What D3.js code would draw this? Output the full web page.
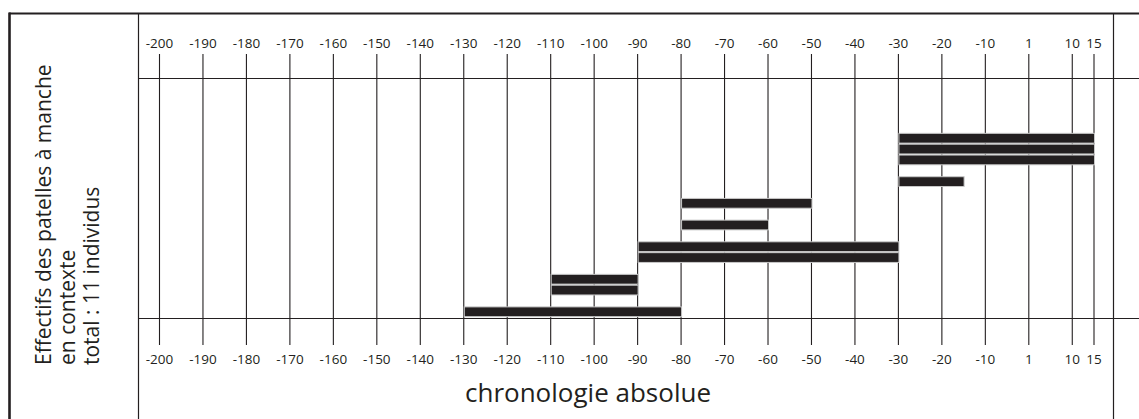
<!DOCTYPE html>
<html>
<head>
<meta charset="utf-8">
<script src="https://cdn.jsdelivr.net/npm/d3@7"></script>
<style>
  html, body { margin: 0; padding: 0; background: #fff; }
  svg { display: block; }
  text { font-family: "Open Sans", "Noto Sans", sans-serif; fill: #231f20; }
</style>
</head>
<body>
<svg id="chart" width="1139" height="419"></svg>
<script>
// ---- data ----
const tickYears  = [-200, -190, -180, -170, -160, -150, -140, -130, -120, -110, -100, -90, -80, -70, -60, -50, -40, -30, -20, -10, 0, 10, 15];
const tickLabels = ["-200", "-190", "-180", "-170", "-160", "-150", "-140", "-130", "-120", "-110", "-100", "-90", "-80", "-70", "-60", "-50", "-40", "-30", "-20", "-10", "1", "10", "15"];
const barStarts = [-130, -110, -110, -90, -90, -80, -80, -30, -30, -30, -30];
const barEnds   = [ -80,  -90,  -90, -30, -30, -60, -50, -15,  15,  15,  15];
const barRows   = [   0,    2,    3,   5,   6,   8,  10,  12,  14,  15,  16];
const yLabelLines = ["Effectifs des patelles à manche", "en contexte", "total : 11 individus"];
const xTitle = "chronologie absolue";

// ---- layout ----
const svg = d3.select("#chart");
const ink = "#231f20";
const x = d3.scaleLinear().domain([-200, 15]).range([159, 1093.5]);
const y = d3.scaleBand().domain(d3.range(17).reverse()).range([132.8, 317.2]).paddingInner(0.1).paddingOuter(0.05);

const gridTop = 54, gridBottom = 345;
const labelOf = d => tickLabels[tickYears.indexOf(d)];

// frame
svg.append("line").attr("x1", 9).attr("x2", 1139).attr("y1", 13.5).attr("y2", 13.5).attr("stroke", ink).attr("stroke-width", 2.2);
svg.append("line").attr("x1", 9.5).attr("x2", 9.5).attr("y1", 12.5).attr("y2", 419).attr("stroke", ink).attr("stroke-width", 2.6);
svg.append("line").attr("x1", 138.5).attr("x2", 138.5).attr("y1", 13).attr("y2", 419).attr("stroke", ink).attr("stroke-width", 1.2);
svg.append("line").attr("x1", 1113.5).attr("x2", 1113.5).attr("y1", 13).attr("y2", 419).attr("stroke", ink).attr("stroke-width", 1.2);

// gridlines + top labels
const topAxis = d3.axisTop(x).tickValues(tickYears).tickFormat(labelOf)
  .tickSize(gridBottom - gridTop).tickPadding(6);
const gTop = svg.append("g").attr("transform", `translate(0,${gridBottom})`).call(topAxis);
gTop.select(".domain").remove();
gTop.selectAll(".tick line").attr("stroke", ink).attr("stroke-width", 1.1);
gTop.selectAll(".tick text").attr("fill", ink).style("font-size", "13.5px").style("font-family", null);

// bottom labels
const botAxis = d3.axisBottom(x).tickValues(tickYears).tickFormat(labelOf)
  .tickSize(gridBottom - gridTop).tickPadding(9.5);
const gBot = svg.append("g").attr("transform", `translate(0,${gridTop})`).call(botAxis);
gBot.select(".domain").remove();
gBot.selectAll(".tick line").remove();
gBot.selectAll(".tick text").attr("fill", ink).style("font-size", "13.5px").style("font-family", null);

// horizontal axis lines
svg.append("line").attr("x1", 138).attr("x2", 1139).attr("y1", 78.5).attr("y2", 78.5).attr("stroke", ink).attr("stroke-width", 1.1);
svg.append("line").attr("x1", 138).attr("x2", 1139).attr("y1", 318.5).attr("y2", 318.5).attr("stroke", ink).attr("stroke-width", 1.1);

// bars
const bars = barStarts.map((s, i) => ({ s, e: barEnds[i], r: barRows[i] }));
svg.append("g").selectAll("rect").data(bars).join("rect")
  .attr("x", d => x(d.s) + 1)
  .attr("width", d => x(d.e) - x(d.s))
  .attr("y", d => y(d.r))
  .attr("height", y.bandwidth())
  .attr("fill", ink)
  .attr("stroke", "#c8c8c8")
  .attr("stroke-width", 1);

// x title
svg.append("text").attr("x", 588).attr("y", 402).attr("text-anchor", "middle")
  .style("font-size", "26px").text(xTitle);

// y label (rotated)
const yl = svg.append("text").attr("transform", "translate(51,365) rotate(-90)")
  .style("font-size", "21px");
yl.selectAll("tspan").data(yLabelLines).join("tspan")
  .attr("x", 0).attr("y", (d, i) => i * 24).text(d => d);
</script>
</body>
</html>
